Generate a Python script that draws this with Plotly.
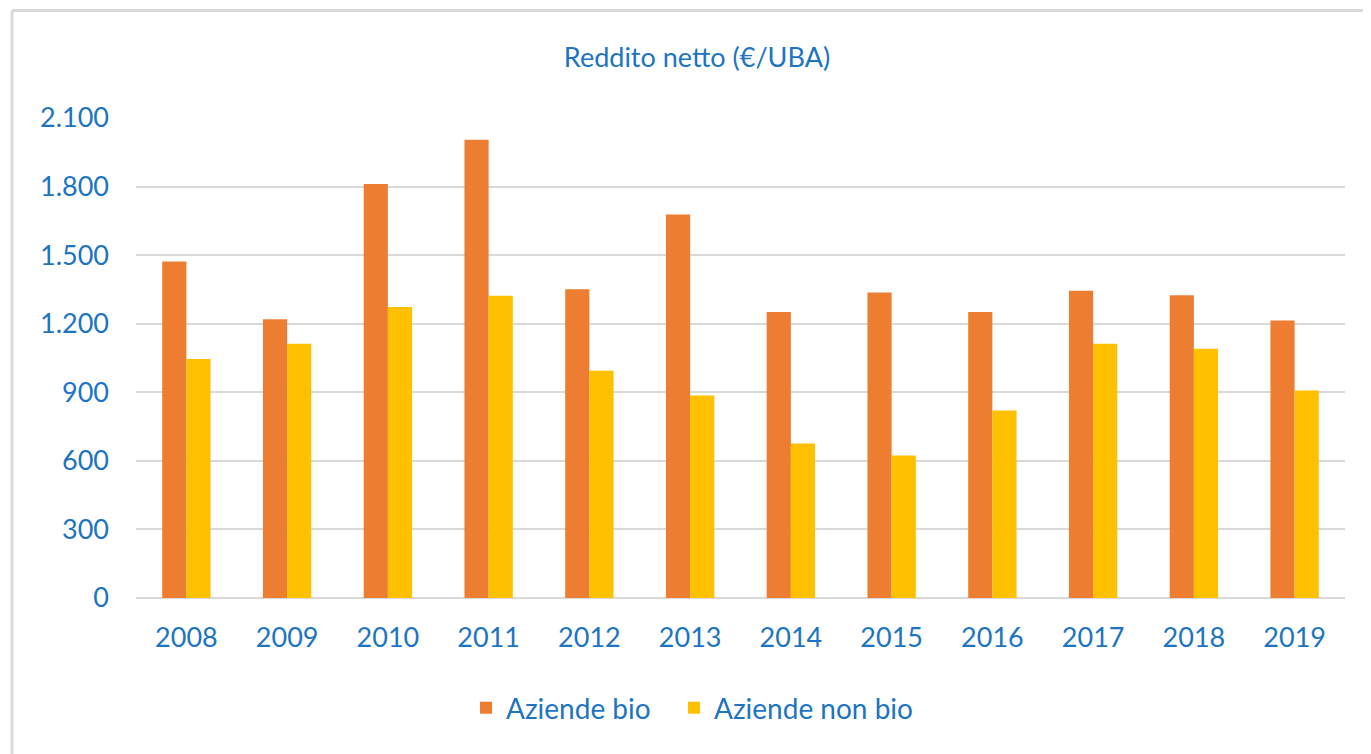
import plotly.graph_objects as go

years = ["2008", "2009", "2010", "2011", "2012", "2013", "2014", "2015", "2016", "2017", "2018", "2019"]
aziende_bio = [1472, 1220, 1811, 2005, 1351, 1678, 1251, 1337, 1251, 1344, 1324, 1214]
aziende_non_bio = [1046, 1112, 1273, 1322, 994, 886, 676, 623, 820, 1112, 1090, 908]
y_ticks = [0, 300, 600, 900, 1200, 1500, 1800, 2100]

TXT = "#1c74c2"
FONT = "Lato"

fig = go.Figure()
fig.add_trace(go.Bar(x=years, y=aziende_bio, name="Aziende bio", legend="legend", showlegend=True,
                     marker=dict(color="#ED7D31", line=dict(width=0))))
fig.add_trace(go.Bar(x=years, y=aziende_non_bio, name="Aziende non bio", legend="legend2", showlegend=True,
                     marker=dict(color="#FFC000", line=dict(width=0))))

OFF = 8  # page body margin
W, H = 1371 - OFF, 754 - OFF
# plot area in page pixels: x 136..1345, y 118..598
L, T = 136 - OFF, 118 - OFF
R = W - (1345 - OFF)
B = H - (598 - OFF)
pw, ph = W - L - R, H - T - B

def px(x):  # page pixel -> paper x
    return (x - OFF - L) / pw

def py(y):  # page pixel -> paper y
    return (H - B - (y - OFF)) / ph

leg_common = dict(orientation="h", xanchor="left", y=py(708), yanchor="middle",
                  font=dict(size=28, color=TXT, family=FONT), itemwidth=30,
                  bgcolor="rgba(0,0,0,0)", visible=True)

fig.update_layout(
    width=W, height=H,
    showlegend=True,
    margin=dict(l=L, r=R, t=T, b=B, autoexpand=False),
    paper_bgcolor="white", plot_bgcolor="white",
    separators=",.",
    barmode="group", bargap=0.52, bargroupgap=0,
    font=dict(family=FONT, color=TXT),
    title=dict(text="Reddito netto (€/UBA)", x=px(697), xref="paper", xanchor="center",
               y=1 - (58 - OFF) / H, yanchor="middle", font=dict(size=27, color=TXT, family=FONT)),
    legend=dict(x=px(466), **leg_common),
    legend2=dict(x=px(674), **leg_common),
    xaxis=dict(showgrid=False, showline=False, zeroline=False, ticks="",
               tickfont=dict(size=27, color=TXT, family=FONT), ticklabelstandoff=21),
    yaxis=dict(range=[0, 2100], tickvals=y_ticks, tickformat=",d",
               showgrid=True, gridcolor="#d9d9d9", gridwidth=2,
               zeroline=True, zerolinecolor="#d9d9d9", zerolinewidth=2,
               showline=False, ticks="",
               tickfont=dict(size=27, color=TXT, family=FONT), ticklabelstandoff=26),
    shapes=[
        dict(type="line", xref="paper", yref="paper", x0=px(12), x1=px(1390), y0=py(10.5), y1=py(10.5),
             line=dict(color="#d9d9d9", width=3)),
        dict(type="line", xref="paper", yref="paper", x0=px(12), x1=px(12), y0=py(10.5), y1=py(780),
             line=dict(color="#d9d9d9", width=3)),
    ],
)

fig.write_html("out.html")
